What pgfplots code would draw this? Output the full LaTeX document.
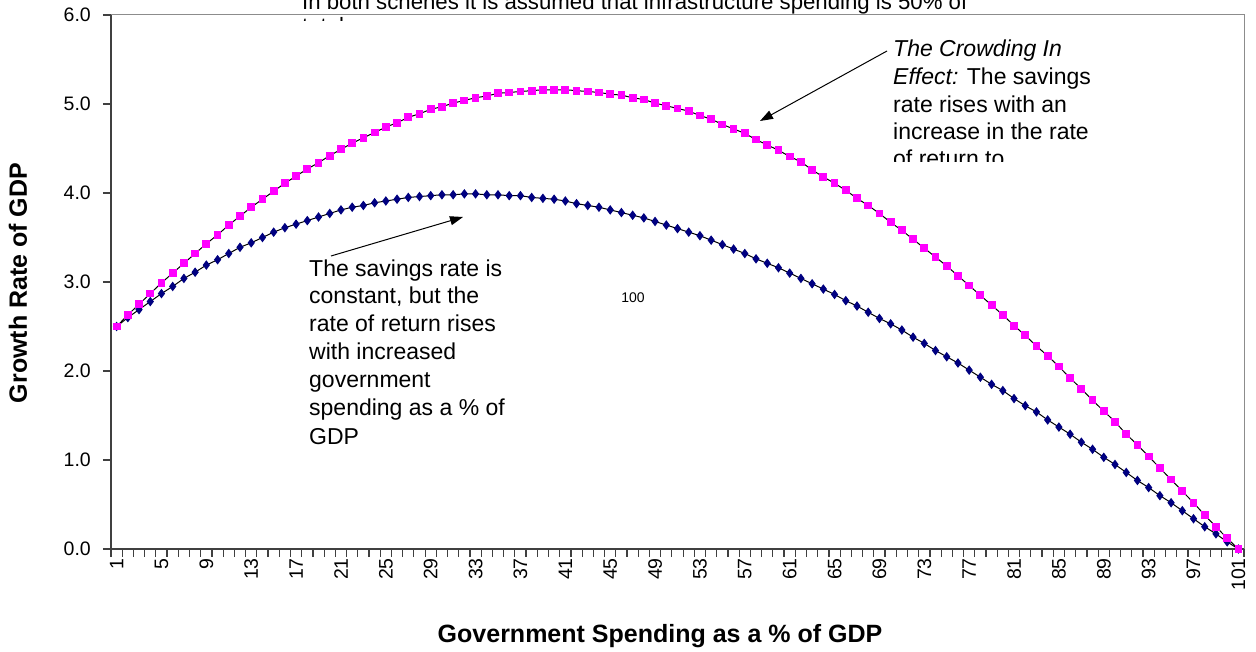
\documentclass[border=0pt]{standalone}
\usepackage{pgfplots}
\pgfplotsset{compat=1.18}
\usepackage{fontspec}
\setmainfont{Liberation Sans}
\usetikzlibrary{arrows.meta}
\definecolor{navyb}{HTML}{000080}
\definecolor{magp}{HTML}{FF00FF}
\begin{document}
\begin{tikzpicture}[x=1pt,y=1pt]
\useasboundingbox (0,0) rectangle (1256,651);
\begin{axis}[
  at={(111pt,102pt)}, anchor=south west,
  width=1133pt, height=534pt, scale only axis,
  xmin=0.5, xmax=101.5, ymin=0, ymax=6,
  axis x line*=bottom, axis y line*=left,
  axis line style={draw=black!75, line width=1.5pt},
  tick align=outside, major tick length=8pt,
  tick style={draw=black!75, line width=1.2pt},
  xtick={0.5,1.5,...,101.5}, xticklabels={},
  extra x ticks={1,5,...,101},
  extra x tick labels={1,5,9,13,17,21,25,29,33,37,41,45,49,53,57,61,65,69,73,77,81,85,89,93,97,101},
  extra x tick style={major tick length=0pt, tick style={draw=none},
     xticklabel style={rotate=90, anchor=east, inner sep=0pt, font=\fontsize{19.5}{22}\selectfont}},
  xticklabel shift=9pt,
  ytick={0,1,2,3,4,5,6},
  yticklabels={0.0,1.0,2.0,3.0,4.0,5.0,6.0},
  yticklabel style={font=\fontsize{19.5}{22}\selectfont, inner sep=0pt},
  yticklabel shift=12pt,
  clip=false,
]
\addplot[black, line width=1pt, mark=diamond*, mark size=4pt, mark options={fill=navyb, draw=navyb}] coordinates {
(1,2.50)(2,2.60)(3,2.69)(4,2.78)(5,2.87)(6,2.95)(7,3.04)(8,3.11)(9,3.19)(10,3.25)
(11,3.32)(12,3.39)(13,3.44)(14,3.50)(15,3.56)(16,3.61)(17,3.65)(18,3.69)(19,3.73)(20,3.77)
(21,3.81)(22,3.84)(23,3.86)(24,3.89)(25,3.91)(26,3.93)(27,3.95)(28,3.96)(29,3.97)(30,3.98)
(31,3.98)(32,3.99)(33,3.99)(34,3.98)(35,3.98)(36,3.97)(37,3.97)(38,3.95)(39,3.94)(40,3.93)
(41,3.91)(42,3.88)(43,3.86)(44,3.84)(45,3.81)(46,3.78)(47,3.75)(48,3.72)(49,3.68)(50,3.64)
(51,3.60)(52,3.56)(53,3.52)(54,3.47)(55,3.42)(56,3.37)(57,3.32)(58,3.26)(59,3.21)(60,3.16)
(61,3.10)(62,3.04)(63,2.98)(64,2.92)(65,2.86)(66,2.79)(67,2.73)(68,2.66)(69,2.59)(70,2.53)
(71,2.46)(72,2.38)(73,2.31)(74,2.23)(75,2.16)(76,2.09)(77,2.01)(78,1.93)(79,1.85)(80,1.78)
(81,1.69)(82,1.61)(83,1.54)(84,1.45)(85,1.37)(86,1.29)(87,1.20)(88,1.12)(89,1.03)(90,0.95)
(91,0.86)(92,0.77)(93,0.69)(94,0.60)(95,0.52)(96,0.43)(97,0.34)(98,0.25)(99,0.17)(100,0.08)
(101,0.00)};
\addplot[black, line width=1pt, mark=square*, mark size=3.4pt, mark options={fill=magp, draw=magp}] coordinates {
(1,2.50)(2,2.63)(3,2.75)(4,2.87)(5,2.99)(6,3.10)(7,3.21)(8,3.32)(9,3.43)(10,3.53)
(11,3.64)(12,3.74)(13,3.84)(14,3.93)(15,4.02)(16,4.11)(17,4.19)(18,4.27)(19,4.34)(20,4.42)
(21,4.49)(22,4.56)(23,4.62)(24,4.68)(25,4.74)(26,4.79)(27,4.85)(28,4.89)(29,4.94)(30,4.97)
(31,5.01)(32,5.04)(33,5.07)(34,5.09)(35,5.12)(36,5.13)(37,5.14)(38,5.15)(39,5.16)(40,5.16)
(41,5.16)(42,5.15)(43,5.14)(44,5.13)(45,5.11)(46,5.10)(47,5.07)(48,5.05)(49,5.01)(50,4.98)
(51,4.95)(52,4.92)(53,4.87)(54,4.83)(55,4.77)(56,4.72)(57,4.67)(58,4.60)(59,4.54)(60,4.48)
(61,4.41)(62,4.35)(63,4.26)(64,4.18)(65,4.11)(66,4.03)(67,3.94)(68,3.86)(69,3.77)(70,3.67)
(71,3.58)(72,3.48)(73,3.38)(74,3.28)(75,3.18)(76,3.07)(77,2.96)(78,2.85)(79,2.74)(80,2.63)
(81,2.51)(82,2.40)(83,2.28)(84,2.17)(85,2.05)(86,1.92)(87,1.80)(88,1.67)(89,1.55)(90,1.43)
(91,1.29)(92,1.17)(93,1.04)(94,0.91)(95,0.78)(96,0.65)(97,0.52)(98,0.38)(99,0.25)(100,0.12)
(101,0.00)};
\draw[black!45, line width=1pt] (rel axis cs:0,1) -- (rel axis cs:1,1) -- (rel axis cs:1,0);
\end{axis}
% axis titles
\node[rotate=90, font=\fontsize{25}{28}\selectfont\bfseries] at (18,368) {Growth Rate of GDP};
\node[font=\fontsize{25}{28}\selectfont\bfseries] at (660,15) {Government Spending as a \% of GDP};
% top text, clipped
\begin{scope}
\clip (290,630.3) rectangle (1100,660);
\node[anchor=base west, inner sep=0pt, font=\fontsize{22.2}{26}\selectfont] at (302,641) {In both schenes it is assumed that infrastructure spending is 50\% of};
\node[anchor=base west, inner sep=0pt, font=\fontsize{22.2}{26}\selectfont] at (302,617) {total};
\end{scope}
% crowding in text, clipped
\begin{scope}
\clip (880,489) rectangle (1200,630);
\begin{scope}[every node/.style={anchor=base west, inner sep=0pt, font=\fontsize{23}{27}\selectfont}]
\node at (893,594) {\itshape The Crowding In};
\node at (893,566) {{\itshape Effect:} The savings};
\node at (893,538.5) {rate rises with an};
\node at (893,511) {increase in the rate};
\node at (893,484) {of return to};
\end{scope}
\end{scope}
% second text block
\begin{scope}[every node/.style={anchor=base west, inner sep=0pt, font=\fontsize{23}{27}\selectfont}]
\node at (309,374) {The savings rate is};
\node at (309,347) {constant, but the};
\node at (309,319) {rate of return rises};
\node at (309,291) {with increased};
\node at (309,263) {government};
\node at (309,235) {spending as a \% of};
\node at (309,206) {GDP};
\end{scope}
\node[font=\fontsize{14}{16}\selectfont] at (633,353) {100};
% arrows
\draw[black, line width=1pt, -{Triangle[length=13pt,width=9pt]}] (887,600) -- (760,530);
\draw[black, line width=1pt, -{Triangle[length=13pt,width=9pt]}] (331,395) -- (463,434);
\end{tikzpicture}
\end{document}
